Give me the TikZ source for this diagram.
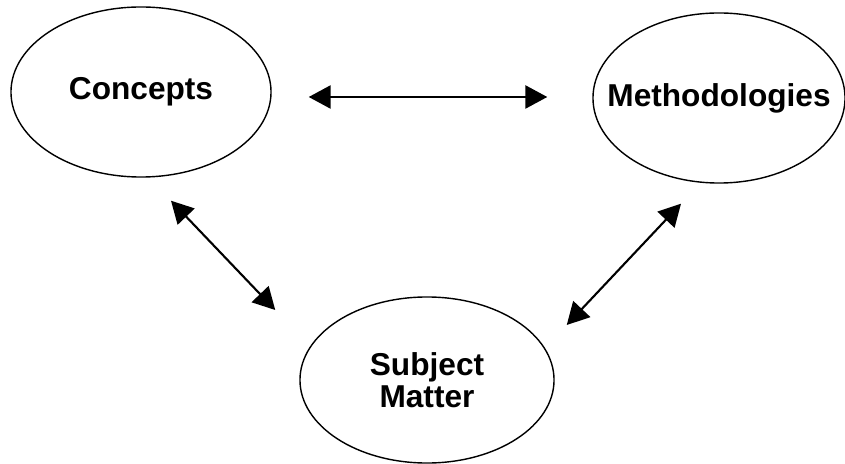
\documentclass[tikz,border=0pt]{standalone}
\usepackage{fontspec}
\setmainfont{Liberation Sans}
\usepackage{tikz}
\usetikzlibrary{arrows.meta,shapes.geometric}

\begin{document}
\begin{tikzpicture}[x=0.025cm, y=-0.025cm,
    every node/.style={font=\bfseries\fontsize{22.5}{23}\selectfont},
    topic/.style={draw, ellipse, line width=1pt, inner xsep=-0.7cm, inner ysep=-0.4cm, align=center},
    link/.style={{Triangle[length=5.5mm,width=5.8mm]}-{Triangle[length=5.5mm,width=5.8mm]}, line width=1.5pt}]
  \useasboundingbox (0,0) rectangle (845,464);

  \node[topic, minimum width=6.5cm, minimum height=4.25cm] (con) at (141,92)
    {Concepts};
  \node[topic, minimum width=6.3cm, minimum height=4.25cm] (meth) at (719,98)
    {Methodologies};
  \node[topic, minimum width=6.35cm, minimum height=4.15cm] (sub) at (427,380)
    {Subject\\Matter};

  \draw[link] ([shift={(37,5)}]con.east) -- ([shift={(-45,-1)}]meth.west);
  \draw[link] ([shift={(30,23)}]con.south) -- ([shift={(-24,-70)}]sub.west);
  \draw[link] ([shift={(-38,20)}]meth.south) -- ([shift={(12,-55)}]sub.east);
\end{tikzpicture}
\end{document}
